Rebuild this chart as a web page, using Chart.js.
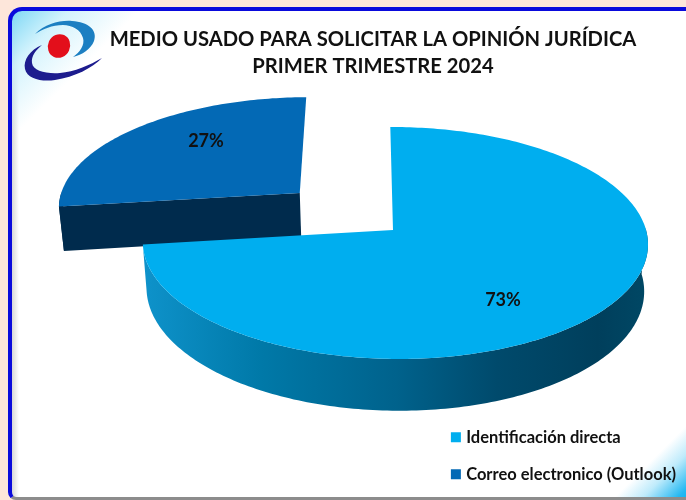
<!DOCTYPE html>
<html lang="es">
<head>
<meta charset="utf-8">
<title>Medio usado para solicitar la opinión jurídica</title>
<script src="https://cdn.jsdelivr.net/npm/chart.js@4/dist/chart.umd.min.js"></script>
<style>
    html, body { margin: 0; padding: 0; width: 686px; height: 500px; overflow: hidden; background: #FDE6DA; }
    #panel {
        position: absolute; left: 8px; top: 7px; width: 720px; height: 486px;
        border-left: 4px solid #0A0ADC; border-top: 4px solid #0A0ADC;
        border-bottom: 3px solid #8C8C8C; border-radius: 14px 0 0 8px;
        background:
            linear-gradient(135deg, #7FD8F5 0, rgba(200,240,252,.8) 40px, rgba(255,255,255,0) 90px),
            linear-gradient(135deg, rgba(255,255,255,0) 770px, #BFEBFB 790px, #22B8F2 815px, #00AEEF 830px),
            linear-gradient(90deg, #D8D8D8 0, rgba(255,255,255,0) 7px),
            #fff;
    }
    #logo { position: absolute; left: 0; top: 0; }
    canvas { position: absolute; left: 0; top: 0; }
</style>
</head>
<body>
<div id="panel"></div>
<svg id="logo" width="686" height="500" viewBox="0 0 686 500">
    <path d="M35 34 C45 24 60 20 72 21 C88 22 98 30 94 41 C91 49 82 55 73 57 C80 52 85 45 83 38 C81 30 72 25 63 25 C52 25 43 29 35 34Z" fill="#1B7FC2"/>
    <path d="M42 45 C30 50 23 60 25 69 C27 79 42 82 55 80 C75 77 92 68 102 58 C90 65 74 72 60 73 C46 74 33 71 32 63 C31 56 36 50 42 45Z" fill="#1C1C8E"/>
    <ellipse cx="59" cy="46" rx="11" ry="12" transform="rotate(25 59 46)" fill="#E30F1B"/>
</svg>
<canvas id="chart" width="686" height="500"></canvas>
<script>
// Medio usado para solicitar la opinion juridica - 3D pie

const titleLines = ['MEDIO USADO PARA SOLICITAR LA OPINIÓN JURÍDICA', 'PRIMER TRIMESTRE 2024'];
const categories = ['Identificación directa', 'Correo electronico (Outlook)'];
const shares = [73, 27];

const COLORS = {
    top: ['#00AEEF', '#0369B5'],
    cutWall: '#002B4D',
    text: '#111111'
};

// Disc seen in perspective: apex of the pie on screen and how the plane is tilted
const VIEW = { cx: 393, cy: 230, rx: 251, ry: 114.5, k: 0.112, m: 0.008, shear: -3, depth: 46, taper: 0.015 };
const EXPLODE = 0.51;
const LABEL_SPOTS = [[503, 300], [206, 141]];

function project(u, v, z) {
    const w = 1 + VIEW.k * v - VIEW.m * u;
    return {
        x: VIEW.cx + (VIEW.rx * u + VIEW.shear * v) / w * (1 - VIEW.taper * z),
        y: VIEW.cy - VIEW.ry * v / w + VIEW.depth * z / w
    };
}

// outer rim of one slice, sampled along the angles chart.js gave the arc
function rimPoints(arc, offU, offV, z, frontOnly) {
    const pts = [];
    const steps = Math.ceil((arc.endAngle - arc.startAngle) / (Math.PI / 180));
    for (let i = 0; i <= steps; i++) {
        const a = arc.startAngle + (arc.endAngle - arc.startAngle) * i / steps;
        if (frontOnly && Math.sin(a) < -0.02) continue; // back of the rim is hidden
        pts.push(project(offU + Math.cos(a), offV - Math.sin(a), z));
    }
    return pts;
}

function fillPoly(ctx, pts, fill) {
    ctx.beginPath();
    pts.forEach((p, i) => i ? ctx.lineTo(p.x, p.y) : ctx.moveTo(p.x, p.y));
    ctx.closePath();
    ctx.fillStyle = fill;
    ctx.fill();
}

function drawSlice(ctx, arc, index, explode) {
    const mid = (arc.startAngle + arc.endAngle) / 2;
    const offU = explode * Math.cos(mid);
    const offV = -explode * Math.sin(mid);
    const topRim = rimPoints(arc, offU, offV, 0, false);
    const frontTop = rimPoints(arc, offU, offV, 0, true);
    const frontLow = rimPoints(arc, offU, offV, 1, true);
    const apexTop = project(offU, offV, 0);
    const apexLow = project(offU, offV, 1);

    let wall = COLORS.cutWall;
    if (index === 0) {
        wall = ctx.createLinearGradient(145, 0, 648, 0);
        wall.addColorStop(0, '#0E92CA');
        wall.addColorStop(0.23, '#0079A8');
        wall.addColorStop(0.5, '#00628C');
        wall.addColorStop(0.7, '#004A6C');
        wall.addColorStop(0.9, '#003F5C');
        wall.addColorStop(1, '#004865');
    }

    // outer wall, then the cut that faces the viewer, then the top
    fillPoly(ctx, frontTop.concat(frontLow.slice().reverse()), wall);
    if (index === 1) {
        fillPoly(ctx, [apexTop, topRim[0], project(offU + Math.cos(arc.startAngle), offV - Math.sin(arc.startAngle), 1), apexLow], COLORS.cutWall);
    }
    fillPoly(ctx, [apexTop].concat(topRim), COLORS.top[index]);
}

const pie3d = {
    id: 'pie3d',
    beforeDatasetsDraw(chart) {
        const ctx = chart.ctx;
        const arcs = chart.getDatasetMeta(0).data;
        ctx.save();
        drawSlice(ctx, arcs[1], 1, EXPLODE);
        drawSlice(ctx, arcs[0], 0, 0);
        ctx.font = 'bold 18px Lato';
        ctx.fillStyle = COLORS.text;
        ctx.textAlign = 'center';
        ctx.textBaseline = 'middle';
        shares.forEach((v, i) => ctx.fillText(v + '%', LABEL_SPOTS[i][0], LABEL_SPOTS[i][1]));
        ctx.restore();
        return false;
    }
};

window.chart = new Chart(document.getElementById('chart'), {
    type: 'pie',
    data: {
        labels: categories,
        datasets: [{ data: shares, backgroundColor: COLORS.top, borderWidth: 0 }]
    },
    plugins: [pie3d],
    options: {
        responsive: false,
        animation: false,
        layout: { padding: { left: 60, top: 26, right: 0, bottom: -3 } },
        plugins: {
            tooltip: { enabled: false },
            title: {
                display: true,
                text: titleLines,
                color: COLORS.text,
                font: { family: 'Lato', size: 20.2, weight: 'bold', lineHeight: 1.34 },
                padding: 0
            },
            legend: {
                position: 'right',
                align: 'end',
                labels: {
                    usePointStyle: true,
                    pointStyle: 'rect',
                    boxWidth: 4,
                    boxHeight: 10,
                    padding: 20.5,
                    color: COLORS.text,
                    font: { family: 'Lato', size: 16.5, weight: 'bold' }
                }
            }
        }
    }
});
</script>
</body>
</html>
